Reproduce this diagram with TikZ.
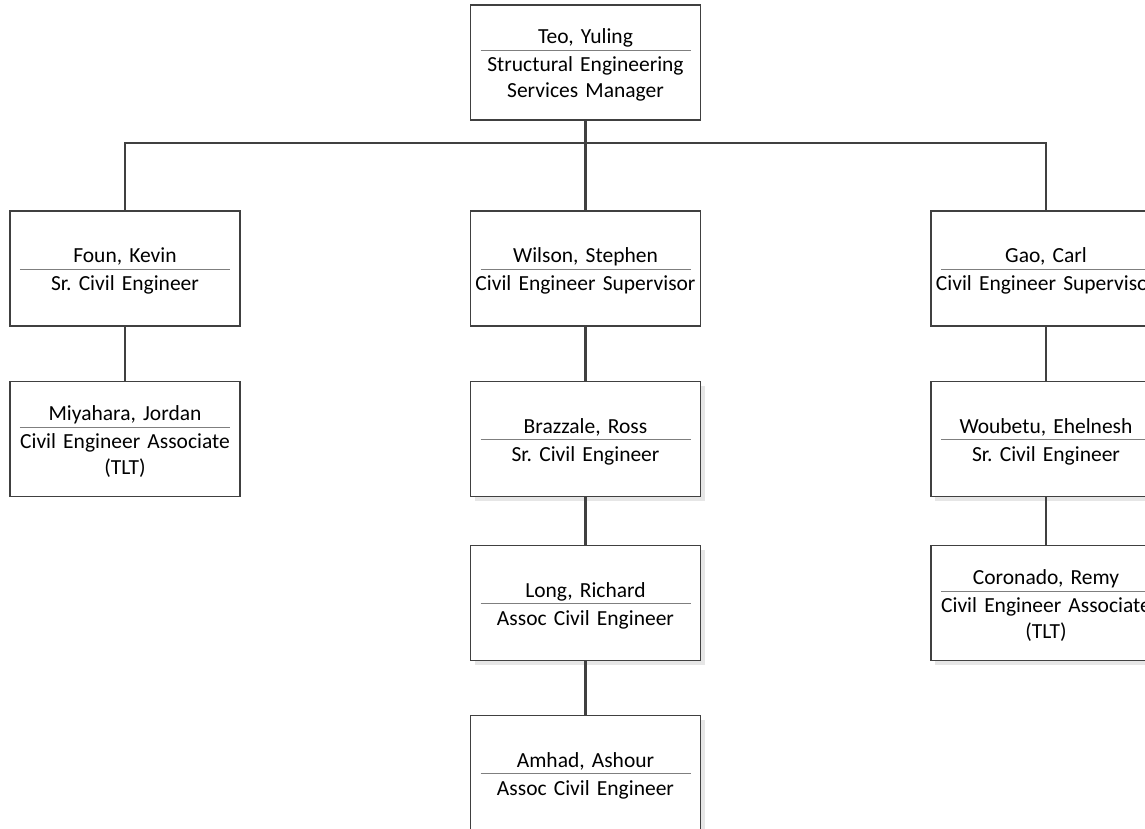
\documentclass[tikz,border=0pt]{standalone}
\usepackage{fontspec}
\setmainfont{Carlito}
\frenchspacing
\usetikzlibrary{shadows}

\definecolor{linegray}{HTML}{404040}
\definecolor{rulegray}{HTML}{7F7F7F}
\definecolor{shadegray}{HTML}{E6E6E6}

% name, thin rule, job title
\newcommand\person[2]{%
  \raisebox{0pt}[\dimexpr\height+5pt][4pt]{#1}\par\nointerlineskip\vspace{2pt}%
  {\color{rulegray}\rule{210pt}{0.9pt}}\par\nointerlineskip\vspace{6pt}%
  #2}

\tikzset{
  staffbox/.style={draw=linegray, line width=1.1pt, fill=white,
    minimum width=230pt, minimum height=115pt, text width=228pt,
    align=center, inner sep=0pt, font=\fontsize{21.5}{26}\selectfont},
  plain/.style={},
  shaded/.style={drop shadow={shadow xshift=4pt, shadow yshift=-4pt,
    fill=shadegray, opacity=1}},
  link/.style={draw=linegray, line width=2.8pt}
}

\begin{document}
\begin{tikzpicture}[x=1pt,y=-1pt]
  \useasboundingbox (0,0) rectangle (1145,829);
  \clip (0,0) rectangle (1145,829);
  \foreach \nm/\cx/\cy/\look/\who/\job in {
      teo/585.5/62.5/plain/{Teo, Yuling}/{Structural Engineering\\Services Manager},
      foun/125/268.5/plain/{Foun, Kevin}/{Sr. Civil Engineer},
      miyahara/125/439/plain/{Miyahara, Jordan}/{Civil Engineer Associate\\(TLT)},
      wilson/585.5/268.5/plain/{Wilson, Stephen}/{Civil Engineer Supervisor},
      brazzale/585.5/439/shaded/{Brazzale, Ross}/{Sr. Civil Engineer},
      long/585.5/603/shaded/{Long, Richard}/{Assoc Civil Engineer},
      amhad/585.5/773/shaded/{Amhad, Ashour}/{Assoc Civil Engineer},
      gao/1046/268.5/plain/{Gao, Carl}/{Civil Engineer Supervisor},
      woubetu/1046/439/shaded/{Woubetu, Ehelnesh}/{Sr. Civil Engineer},
      coronado/1046/603/shaded/{Coronado, Remy}/{Civil Engineer Associate\\(TLT)}
    } {
      \node[staffbox,\look] (\nm) at (\cx,\cy) {\person{\who}{\job}};
    };
  % manager to the three groups
  \coordinate (bar) at (585.5,143);
  \draw[link] (teo.south) -- (wilson.north);
  \draw[link] (foun.north) |- (bar) -| (gao.north);
  % reports inside each group
  \foreach \up/\down in {foun/miyahara, wilson/brazzale, brazzale/long,
      long/amhad, gao/woubetu, woubetu/coronado}
    \draw[link] (\up) -- (\down);
\end{tikzpicture}
\end{document}
